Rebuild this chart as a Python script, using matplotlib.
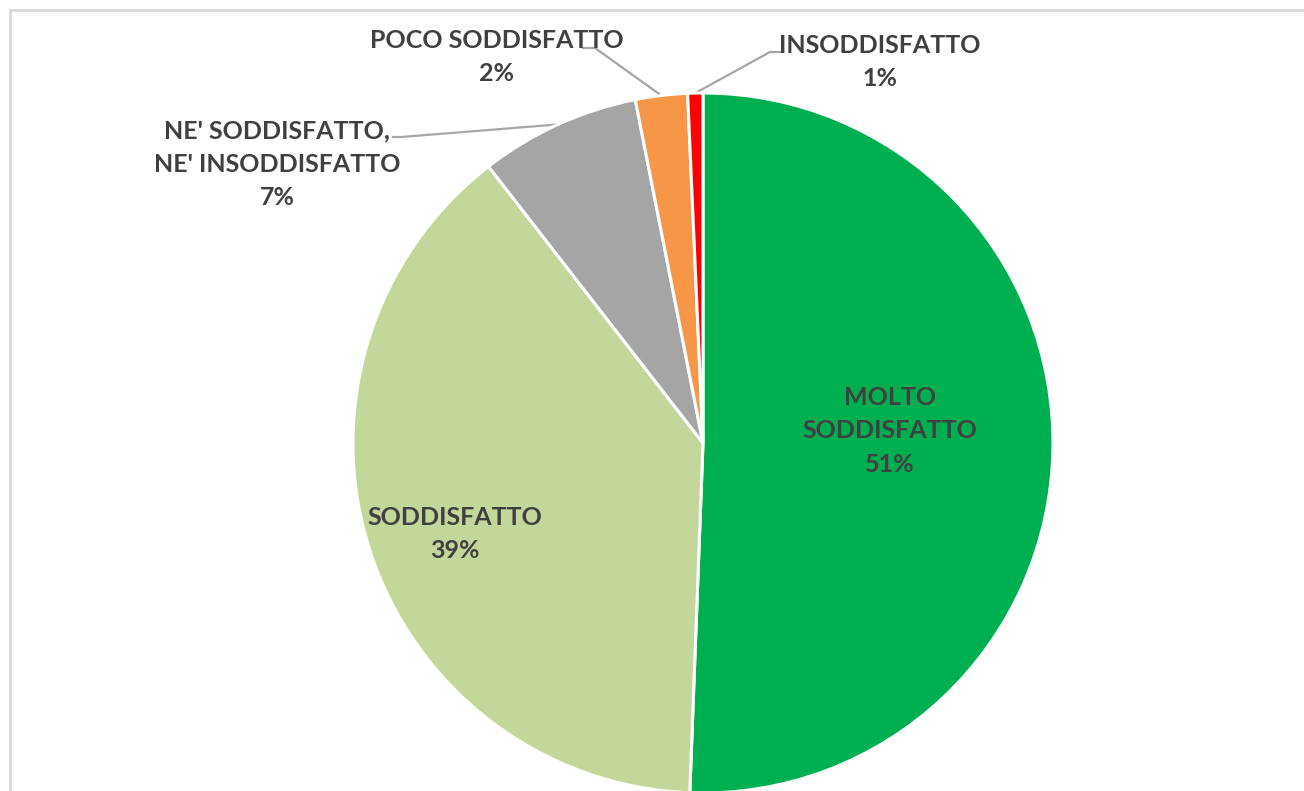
import numpy as np
import matplotlib.pyplot as plt
from matplotlib.lines import Line2D

plt.rcParams['font.family'] = ['Lato', 'DejaVu Sans']

categorie = ['MOLTO\nSODDISFATTO', 'SODDISFATTO', "NE' SODDISFATTO,\nNE' INSODDISFATTO",
             'POCO SODDISFATTO', 'INSODDISFATTO']
valori = [50.6, 38.9, 7.4, 2.4, 0.7]
colori = ['#00B050', '#C4D79B', '#A5A5A5', '#F79646', '#FF0000']

W, H = 1304, 791
CX, CY, R = 703, 443, 350

def px(x, y):
    # pixel (da in alto a sinistra) -> coordinate dati
    return (x - CX) / R, (CY - y) / R

fig = plt.figure(figsize=(W / 100, H / 100), dpi=100)
ax = fig.add_axes([0, 0, 1, 1])

wedges, _ = ax.pie(valori, colors=colori, startangle=90, counterclock=False, radius=1,
                   wedgeprops=dict(edgecolor='white', linewidth=2.2))
ax.set_aspect('auto')
ax.set_xlim(-CX / R, (W - CX) / R)
ax.set_ylim((CY - H) / R, CY / R)
ax.axis('off')

# bordo del grafico
fig.add_artist(Line2D([10 / W, 1], [1 - 10 / H, 1 - 10 / H], color='#D9D9D9', lw=2))
fig.add_artist(Line2D([10 / W, 10 / W], [0, 1 - 10 / H], color='#D9D9D9', lw=2))

tot = sum(valori)
testo = ['%s\n%d%%' % (c, round(v / tot * 100)) for c, v in zip(categorie, valori)]
pos = [(890, 431), (455, 534), (277, 164), (497, 57), (880, 62)]
for t, p in zip(testo, pos):
    ax.text(*px(*p), t, ha='center', va='center', fontsize=18, fontweight='bold',
            color='#404040', linespacing=1.55)

# linee guida per le fette piccole
guide = {2: [(393, 137), (401, 137)], 3: [(583, 48), (595, 48)], 4: [(780, 52), (770, 52)]}
for i, pts in guide.items():
    w = wedges[i]
    a = np.deg2rad((w.theta1 + w.theta2) / 2)
    xs = [px(*pts[0])[0], px(*pts[1])[0], np.cos(a)]
    ys = [px(*pts[0])[1], px(*pts[1])[1], np.sin(a)]
    ax.plot(xs, ys, color='#A6A6A6', lw=1.6, zorder=0)

fig.savefig('out.png', dpi=100, facecolor='white')
